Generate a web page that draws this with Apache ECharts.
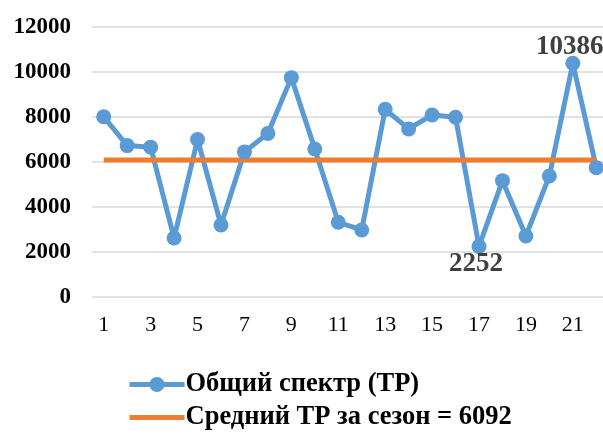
<!DOCTYPE html>
<html>
<head>
<meta charset="utf-8">
<script src="https://cdn.jsdelivr.net/npm/echarts@6/dist/echarts.min.js"></script>
<style>
  html, body { margin: 0; padding: 0; background: #fff; }
  #chart { width: 603px; height: 436px; }
</style>
</head>
<body>
<div id="chart"></div>
<script>
const FONT = '"Liberation Serif", "Times New Roman", serif';

// data
const categories = ['1', '2', '3', '4', '5', '6', '7', '8', '9', '10', '11',
  '12', '13', '14', '15', '16', '17', '18', '19', '20', '21', '22'];
const totalTR = [8010, 6730, 6660, 2620, 7000, 3200, 6450, 7270, 9750, 6580, 3320,
  2980, 8340, 7470, 8090, 7990, 2252, 5170, 2710, 5380, 10386, 5750];
const avgTR = [6092, 6092, 6092, 6092, 6092, 6092, 6092, 6092, 6092, 6092, 6092,
  6092, 6092, 6092, 6092, 6092, 6092, 6092, 6092, 6092, 6092, 6092];
const yTicks = {min: 0, max: 12000, interval: 2000};
const seriesNames = ['Общий спектр (ТР)', 'Средний ТР за сезон = 6092'];
const labelledIdx = [16, 20]; // min and max points

const chart = echarts.init(document.getElementById('chart'));

chart.setOption({
  animation: false,
  grid: {
    left: 92,
    top: 27,
    width: 516,
    height: 270,
    outerBoundsMode: 'none',
  },
  xAxis: {
    type: 'category',
    data: categories,
    boundaryGap: true,
    axisLine: {show: false},
    axisTick: {show: false},
    axisLabel: {
      interval: 1,
      margin: 17,
      color: '#000',
      fontFamily: FONT,
      fontSize: 22,
    },
  },
  yAxis: {
    type: 'value',
    min: yTicks.min,
    max: yTicks.max,
    interval: yTicks.interval,
    axisLine: {show: false},
    axisTick: {show: false},
    axisLabel: {
      margin: 21,
      color: '#000',
      fontFamily: FONT,
      fontWeight: 'bold',
      fontSize: 23,
      formatter: (v) => String(v),
    },
    splitLine: {
      lineStyle: {color: '#d9d9d9', width: 1.5},
    },
  },
  legend: {
    orient: 'vertical',
    left: 127,
    top: 371,
    padding: 0,
    itemWidth: 55,
    itemHeight: 19,
    itemGap: 6,
    lineStyle: {width: 5},
    textStyle: {
      color: '#000',
      fontFamily: FONT,
      fontWeight: 'bold',
      fontSize: 26.5,
      padding: [0, 0, 0, -4],
    },
    data: [
      {name: seriesNames[0]},
      {name: seriesNames[1], itemStyle: {opacity: 0}},
    ],
  },
  series: [
    {
      name: seriesNames[0],
      type: 'line',
      data: totalTR.map((v, i) => {
        if (!labelledIdx.includes(i)) return v;
        const top = i === 20;
        return {
          value: v,
          label: {
            show: true,
            position: top ? 'top' : 'bottom',
            distance: top ? 0 : -3,
            offset: top ? [-3, 5] : [-3, 0],
          },
        };
      }),
      symbol: 'circle',
      symbolSize: 15,
      lineStyle: {color: '#5b9bd5', width: 5},
      itemStyle: {color: '#5b9bd5'},
      label: {
        color: '#404040',
        fontFamily: FONT,
        fontWeight: 'bold',
        fontSize: 27,
      },
    },
    {
      name: seriesNames[1],
      type: 'line',
      data: avgTR,
      showSymbol: false,
      symbol: 'none',
      lineStyle: {color: '#ed7d31', width: 5},
      itemStyle: {color: '#ed7d31'},
    },
  ],
});
</script>
</body>
</html>
